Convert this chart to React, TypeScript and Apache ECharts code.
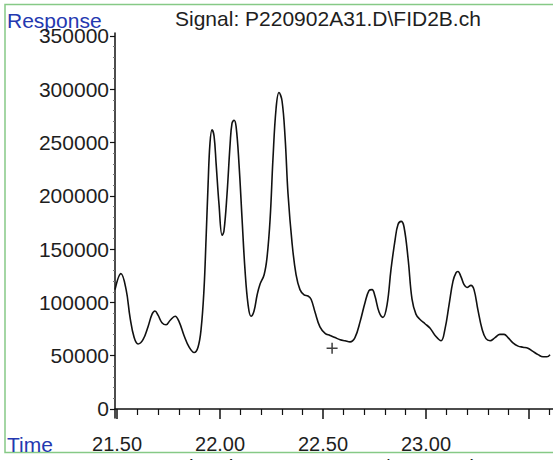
import React, { useEffect, useRef } from "react";
import * as echarts from "echarts";

// Retention time (min) and detector response
const times = [
  21.490, 21.519, 21.544, 21.563, 21.583, 21.602, 21.626, 21.650, 21.670, 21.684,
  21.699, 21.718, 21.738, 21.757, 21.782, 21.801, 21.825, 21.850, 21.874, 21.893,
  21.908, 21.922, 21.932, 21.942, 21.951, 21.961, 21.971, 21.981, 21.995, 22.010,
  22.019, 22.034, 22.049, 22.058, 22.068, 22.078, 22.092, 22.107, 22.121, 22.136,
  22.150, 22.165, 22.180, 22.194, 22.214, 22.228, 22.243, 22.257, 22.272, 22.286,
  22.301, 22.316, 22.330, 22.350, 22.369, 22.388, 22.408, 22.427, 22.442, 22.461,
  22.485, 22.510, 22.534, 22.558, 22.583, 22.607, 22.631, 22.655, 22.680, 22.704,
  22.723, 22.738, 22.752, 22.772, 22.791, 22.811, 22.830, 22.850, 22.864, 22.879,
  22.893, 22.913, 22.932, 22.951, 22.971, 22.995, 23.019, 23.044, 23.073, 23.092,
  23.112, 23.131, 23.146, 23.155, 23.170, 23.184, 23.199, 23.218, 23.233, 23.252,
  23.272, 23.291, 23.311, 23.335, 23.359, 23.379, 23.398, 23.422, 23.447, 23.471,
  23.495, 23.519, 23.544, 23.568, 23.587, 23.602,
];
const responses = [
  112000, 127000, 112000, 86000, 67000, 61000, 65000, 77000, 89000, 92000,
  88000, 81000, 79000, 83000, 87000, 82000, 69000, 58000, 53000, 58000,
  75000, 112000, 159000, 211000, 249000, 262000, 256000, 230000, 192000, 163000,
  167000, 202000, 249000, 268000, 271000, 265000, 230000, 178000, 131000, 98000,
  87000, 92000, 107000, 117000, 126000, 142000, 178000, 235000, 282000, 297000,
  289000, 254000, 202000, 155000, 126000, 112000, 107000, 106000, 103000, 91000,
  77000, 71000, 69000, 67000, 65000, 64000, 63000, 67000, 82000, 100000,
  111000, 112000, 106000, 91000, 86000, 98000, 131000, 159000, 173000, 176000,
  171000, 141000, 103000, 89000, 84000, 80000, 76000, 69000, 64000, 75000,
  98000, 120000, 128000, 129000, 124000, 117000, 114000, 116000, 112000, 93000,
  75000, 66000, 64000, 67000, 70000, 70000, 67000, 62000, 59000, 58000,
  57000, 54000, 51000, 49000, 49000, 51000,
];

// Marker "+" position
const markerTime = [22.544];
const markerResponse = [57000];

// Axis tick values
const yTickValues = [0, 50000, 100000, 150000, 200000, 250000, 300000, 350000];
const xLabelValues = [21.5, 22.0, 22.5, 23.0];
const xMajorTickValues = [21.5, 22.0, 22.5, 23.0, 23.5];
const xMinorTickValues = [
  21.6, 21.7, 21.8, 21.9, 22.1, 22.2, 22.3, 22.4, 22.6, 22.7, 22.8, 22.9,
  23.1, 23.2, 23.3, 23.4, 23.6,
];
const yMinorTickValues = [
  10000, 20000, 30000, 40000, 60000, 70000, 80000, 90000, 110000, 120000, 130000, 140000,
  160000, 170000, 180000, 190000, 210000, 220000, 230000, 240000, 260000, 270000, 280000,
  290000, 310000, 320000, 330000, 340000,
];

const titleText = "Signal: P220902A31.D\\FID2B.ch";
const FONT = '"Liberation Sans", Arial, sans-serif';
const BLUE = "#2438b0";
const TEXT = "#1e1e1e";

export default function App() {
  const ref = useRef<HTMLDivElement>(null);

  useEffect(() => {
    if (!ref.current) return;
    const chart = echarts.init(ref.current, null, { renderer: "svg" });

    const XMIN = 21.49;
    const XMAX = 23.6165;
    const YMIN = -8450;
    const YMAX = 352800;

    const lineData = times.map((t, i) => [t, responses[i]]);
    const markerData = markerTime.map((t, i) => [t, markerResponse[i]]);

    const plus =
      "path://M4.3,0H5.7V4.3H10V5.7H5.7V10H4.3V5.7H0V4.3H4.3Z";

    chart.setOption({
      animation: false,
      backgroundColor: "#ffffff",
      grid: { left: 115, top: 33, width: 438, height: 385, containLabel: false },
      xAxis: [
        {
          type: "value",
          min: XMIN,
          max: XMAX,
          position: "bottom",
          axisLine: { show: true, lineStyle: { color: "#111", width: 1.5 } },
          axisTick: {
            show: true,
            inside: false,
            length: 10,
            customValues: xMajorTickValues,
            lineStyle: { color: "#111", width: 1.5 },
          },
          axisLabel: {
            show: true,
            customValues: xLabelValues,
            formatter: (v: number) => v.toFixed(2),
            fontFamily: FONT,
            fontSize: 20,
            color: TEXT,
            margin: 16,
          },
          splitLine: { show: false },
        },
        {
          type: "value",
          min: XMIN,
          max: XMAX,
          position: "bottom",
          axisLine: { show: false },
          axisTick: {
            show: true,
            inside: false,
            length: 6,
            customValues: xMinorTickValues,
            lineStyle: { color: "#111", width: 1.2 },
          },
          axisLabel: { show: false },
          splitLine: { show: false },
        },
      ],
      yAxis: [
        {
          type: "value",
          min: YMIN,
          max: YMAX,
          position: "left",
          axisLine: { show: true, lineStyle: { color: "#111", width: 1.5 } },
          axisTick: {
            show: true,
            inside: false,
            length: 5,
            customValues: yTickValues,
            lineStyle: { color: "#111", width: 1.2 },
          },
          axisLabel: {
            show: true,
            customValues: yTickValues,
            formatter: (v: number) => String(v),
            fontFamily: FONT,
            fontSize: 21,
            color: TEXT,
            margin: 6,
          },
          splitLine: { show: false },
        },
        {
          type: "value",
          min: YMIN,
          max: YMAX,
          position: "left",
          axisLine: { show: false },
          axisTick: {
            show: true,
            inside: false,
            length: 2,
            customValues: yMinorTickValues,
            lineStyle: { color: "#777", width: 1 },
          },
          axisLabel: { show: false },
          splitLine: { show: false },
        },
      ],
      series: [
        {
          type: "line",
          data: lineData,
          xAxisIndex: 0,
          yAxisIndex: 0,
          smooth: 0.4,
          showSymbol: false,
          symbol: "none",
          lineStyle: { color: "#111", width: 1.6 },
          clip: true,
          z: 3,
        },
        {
          type: "scatter",
          data: markerData,
          xAxisIndex: 0,
          yAxisIndex: 0,
          symbol: plus,
          symbolSize: 11,
          itemStyle: { color: "#111" },
          z: 4,
        },
      ],
      graphic: [
        {
          type: "rect",
          shape: { x: 5, y: 4.5, width: 600, height: 448 },
          style: { fill: "none", stroke: "#86c986", lineWidth: 1.5 },
          silent: true,
          z: 0,
        },
        {
          type: "text",
          x: 7,
          y: 20,
          style: {
            text: "Response",
            fontFamily: FONT,
            fontSize: 21,
            fill: BLUE,
            verticalAlign: "middle",
          },
        },
        {
          type: "text",
          x: 175,
          y: 18,
          style: {
            text: titleText,
            fontFamily: FONT,
            fontSize: 21,
            fill: TEXT,
            verticalAlign: "middle",
          },
        },
        {
          type: "text",
          x: 7,
          y: 444,
          style: {
            text: "Time",
            fontFamily: FONT,
            fontSize: 21,
            fill: BLUE,
            verticalAlign: "middle",
          },
        },
        {
          type: "text",
          x: 175,
          y: 466,
          style: {
            text: titleText,
            fontFamily: FONT,
            fontSize: 21,
            fill: TEXT,
            verticalAlign: "middle",
          },
        },
      ],
    });

    return () => chart.dispose();
  }, []);

  return (
    <div
      ref={ref}
      style={{ position: "fixed", left: 0, top: 0, width: 553, height: 460, background: "#fff" }}
    />
  );
}
